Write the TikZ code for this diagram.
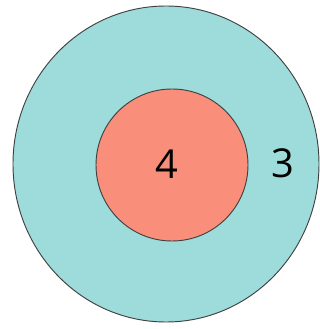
\documentclass[tikz,border=0pt]{standalone}
\usepackage{fontspec}
\setmainfont{Open Sans}
\definecolor{ringcyan}{HTML}{9EDCDC}
\definecolor{coresalmon}{HTML}{F98F7A}
\tikzset{rim/.style={draw=black!75, line width=0.8pt}}
\begin{document}
\begin{tikzpicture}[x=0.03cm, y=0.03cm]
  \useasboundingbox (0,0) rectangle (320,329);
  \coordinate (O) at (166,165);
  \coordinate (I) at (172,164);
  \filldraw[rim, fill=ringcyan] (O) ellipse [x radius=153, y radius=158];
  \filldraw[rim, fill=coresalmon] (I) circle (76);
  \node[font=\fontsize{34}{36}\selectfont] (four) at (167,165) {4};
  \node[font=\fontsize{34}{36}\selectfont] (three) at (283,166) {3};
\end{tikzpicture}
\end{document}
